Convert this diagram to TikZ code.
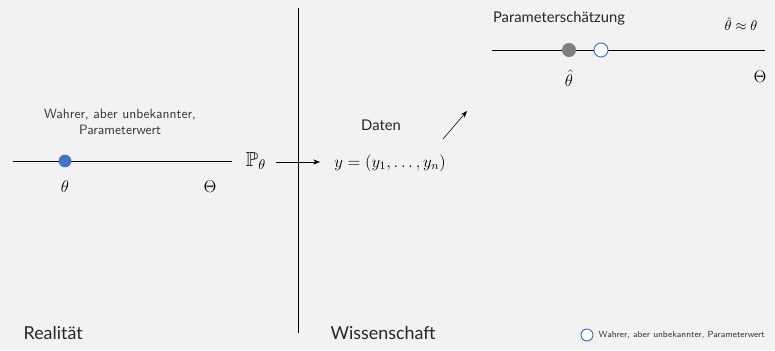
\documentclass[tikz,border=0pt]{standalone}
\usepackage{amsmath,amssymb}
\usepackage{fontspec}
\newfontfamily\latofont{Lato}
\usepackage{tikz}
\usetikzlibrary{arrows.meta}
\definecolor{truecol}{RGB}{68,114,196}

\begin{document}
\begin{tikzpicture}[
    x=0.025cm, y=-0.025cm,
    >=Stealth,
    axis/.style  = {draw=black, line width=0.6pt},
    truept/.style = {circle, fill=truecol, draw=none,
                     minimum size=9pt, inner sep=0pt},
    estpt/.style = {circle, fill=black!50, draw=none,
                     minimum size=10pt, inner sep=0pt},
    hollow/.style = {circle, fill=white, draw=truecol,
                     line width=0.7pt, minimum size=10pt, inner sep=0pt},
    mlbl/.style  = {font=\large, inner sep=1pt},
    note/.style  = {font=\sffamily\fontsize{9.6}{11.5}\selectfont,
                     text=black!80, align=center, inner sep=1pt},
    head/.style  = {font=\latofont\fontsize{10.5}{12}\selectfont,
                     text=black!85, inner sep=1pt},
    side/.style  = {font=\latofont\fontsize{12.7}{15}\selectfont,
                     text=black!85, anchor=west, inner sep=1pt},
  ]
  % background
  \fill[black!5] (0,0) rectangle (775,350);
  \useasboundingbox (0,0) rectangle (775,350);
  % separator
  \draw[line width=0.7pt] (298,8) -- (298,333);
  % reality: parameter space
  \coordinate (la) at (13,161);
  \coordinate (lb) at (232,161);
  \draw[axis] (la) -- (lb);
  \node[truept] (th) at (65,161) {};
  \node[mlbl] (thl) at (65,187) {$\theta$};
  \node[mlbl] (Thl) at (210,187) {$\Theta$};
  \node[note] (wahr) at (120,122) {Wahrer, aber unbekannter,\\Parameterwert};
  \node[mlbl, font=\Large] (P) at (256,161) {$\mathbb{P}_{\theta}$};
  % data
  \node[mlbl] (y) at (390,163) {$y=(y_1,\ldots,y_n)$};
  \node[head] (dat) at (381,125) {Daten};
  \coordinate (a1) at (276,162);
  \coordinate (a2) at (320,162);
  \draw[->] (a1) -- (a2);
  % science: estimate
  \coordinate (ra) at (492,50);
  \coordinate (rb) at (765,50);
  \draw[axis] (ra) -- (rb);
  \node[estpt] (est) at (569,50) {};
  \node[hollow] (tru) at (601,50) {};
  \node[mlbl] (estl) at (569,78) {$\hat{\theta}$};
  \node[mlbl] (Thr) at (760,77) {$\Theta$};
  \node[head] (pschaetz) at (559,18) {Parameterschätzung};
  \node[mlbl, font=\normalsize] (approx) at (741,24) {$\hat{\theta}\approx\theta$};
  \coordinate (d1) at (443,139);
  \coordinate (d2) at (467,111);
  \draw[->] (d1) -- (d2);
  % bottom labels and legend
  \node[side] (real) at (22,333) {Realität};
  \node[side] (wiss) at (329,333) {Wissenschaft};
  \node[hollow, minimum size=8.5pt] (leg) at (587,335) {};
  \node[note, anchor=west, font=\sffamily\fontsize{6.3}{8}\selectfont] (legl)
    at (597,335) {Wahrer, aber unbekannter, Parameterwert};
\end{tikzpicture}
\end{document}
